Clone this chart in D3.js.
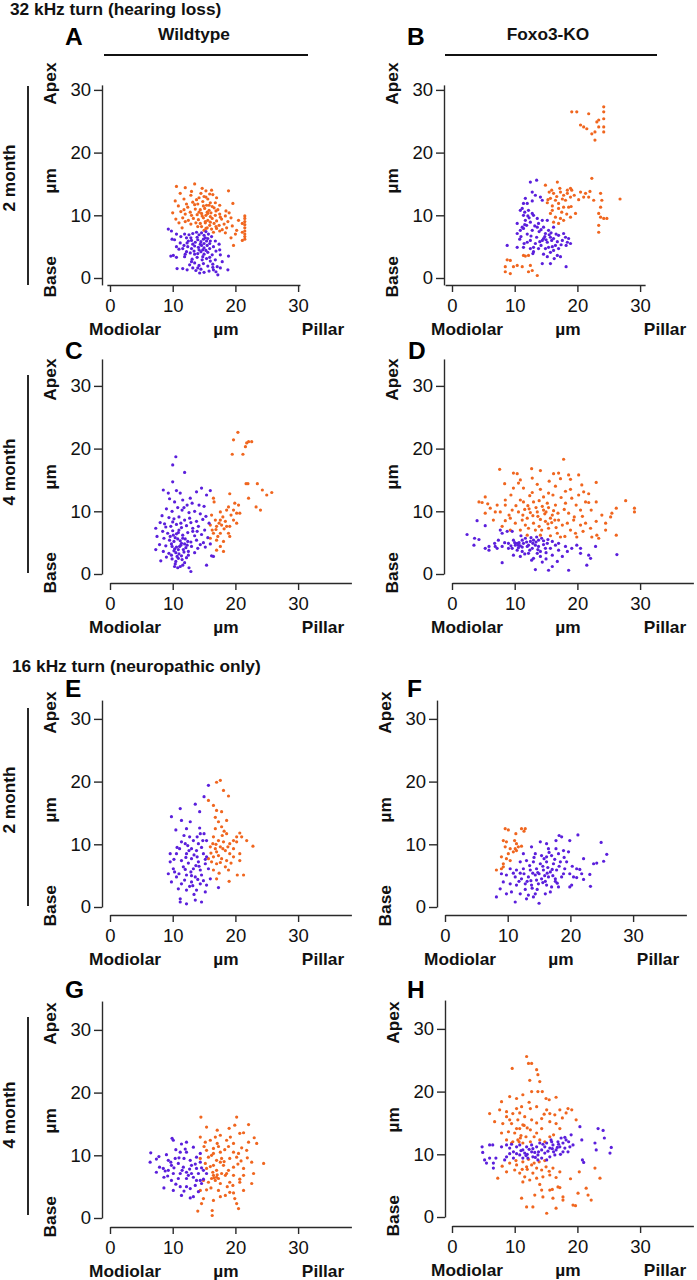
<!DOCTYPE html>
<html>
<head>
<meta charset="utf-8">
<script src="https://cdn.jsdelivr.net/npm/d3@7"></script>
<style>
  html, body { margin: 0; padding: 0; background: #fff; }
  svg { display: block; font-family: "Liberation Sans", Arial, sans-serif; }
</style>
</head>
<body>
<script>
// ---------------- DATA ----------------
const turns = ["32 kHz turn (hearing loss)", "16 kHz turn (neuropathic only)"];
const genotypes = ["Wildtype", "Foxo3-KO"];
const ages = ["2 month", "4 month", "2 month", "4 month"];
const panelLetters = ["A", "B", "C", "D", "E", "F", "G", "H"];
const xTicks = [0, 10, 20, 30];
const yTicks = [0, 10, 20, 30];
const xAxisWords = ["Modiolar", "µm", "Pillar"];
const yAxisWords = ["Apex", "µm", "Base"];
const seriesColors = { purple: "#5b1fdc", orange: "#f0661f" };

// Panel A: 32 kHz, Wildtype, 2 month
const A_orange = [[10.6,14.6],[12.0,14.4],[13.5,15.0],[14.7,14.3],[15.3,13.9],[16.2,14.0],[18.9,13.9],[11.2,13.5],[12.9,13.2],[14.2,12.8],[15.0,13.0],[15.6,12.6],[16.4,13.3],[17.0,12.8],[19.6,11.9],[10.4,12.3],[11.8,12.6],[13.2,12.1],[14.0,11.8],[14.8,12.2],[15.4,11.6],[16.0,12.0],[17.5,11.6],[10.9,11.5],[12.4,11.3],[13.6,11.0],[14.4,10.9],[15.1,11.1],[15.8,10.8],[16.6,11.2],[18.5,10.7],[10.0,10.4],[11.3,10.6],[12.0,10.2],[12.8,10.5],[13.9,10.1],[14.6,10.3],[15.3,10.0],[16.1,10.4],[16.8,10.0],[17.5,10.2],[18.4,9.9],[19.3,9.6],[10.5,9.4],[11.6,9.6],[12.5,9.2],[13.3,9.5],[14.1,9.3],[14.9,9.6],[15.6,9.2],[16.3,9.5],[17.0,9.1],[17.8,9.4],[18.8,9.0],[11.0,8.8],[12.9,8.6],[14.4,8.7],[15.2,8.8],[15.9,8.4],[16.6,8.7],[17.4,8.4],[18.2,8.6],[19.5,8.3],[14.0,8.2],[15.5,8.0],[16.2,7.8],[17.0,7.9],[17.9,7.7],[20.2,7.6],[20.0,7.0],[19.3,6.4],[19.7,5.2],[15.0,7.6],[16.5,7.3],[15.8,11.6],[15.5,10.5],[16.0,9.8],[15.2,9.0],[16.9,10.7],[14.7,9.9],[21.5,9.9],[21.5,9.5],[21.5,9.0],[21.5,8.5],[21.5,8.0],[21.5,7.5],[21.5,7.0],[21.5,6.6],[21.5,6.2],[21.1,8.7],[21.1,7.3],[21.1,6.0],[13.0,13.8],[14.5,13.5],[15.9,13.4],[13.8,12.5],[15.3,12.9],[16.8,12.0],[12.2,11.8],[13.5,11.7],[14.9,11.5],[16.3,11.4],[17.2,10.9],[11.8,10.9],[13.0,10.0],[14.2,10.5],[15.6,10.3],[17.6,9.7],[12.0,9.0],[13.7,8.8],[16.9,8.2],[18.6,8.0],[14.6,8.2],[17.5,7.5],[18.4,7.2],[11.5,8.0],[19.0,10.4],[20.5,9.2],[16.0,8.9],[15.3,7.9]];
const A_purple = [[9.3,7.8],[9.8,7.5],[9.9,6.2],[10.3,6.1],[10.6,7.0],[11.3,6.6],[11.9,7.0],[12.2,6.4],[12.6,6.9],[13.2,7.1],[13.8,7.3],[14.2,6.9],[14.6,7.2],[15.0,6.8],[15.3,7.4],[15.7,7.0],[16.2,6.6],[12.5,5.9],[13.0,6.0],[13.6,5.7],[14.0,6.1],[14.5,5.8],[14.9,6.2],[15.4,5.9],[15.9,5.5],[16.8,5.9],[17.4,5.4],[11.8,5.2],[12.4,5.0],[13.0,4.7],[13.5,5.1],[14.1,4.9],[14.6,5.2],[15.0,4.8],[15.5,5.2],[15.9,4.7],[16.5,5.0],[17.5,4.5],[11.0,4.6],[11.6,4.7],[12.2,4.2],[12.8,4.0],[13.4,4.3],[14.0,3.9],[14.5,4.2],[15.0,3.8],[15.6,4.1],[16.3,3.7],[17.6,3.7],[18.9,3.5],[10.1,3.6],[9.7,3.5],[10.6,3.3],[11.9,3.4],[13.1,3.0],[13.9,3.3],[14.7,2.9],[15.4,3.1],[16.0,2.7],[16.8,2.9],[12.7,2.1],[13.5,2.4],[14.2,2.0],[14.9,2.3],[15.6,1.9],[16.4,2.2],[17.1,1.8],[17.6,1.6],[10.7,1.5],[11.6,1.5],[12.3,1.3],[13.7,1.2],[14.5,1.4],[15.0,0.9],[15.8,1.1],[16.5,1.3],[16.9,1.0],[17.2,0.5],[18.8,1.3],[14.3,0.8],[13.2,1.6],[15.2,6.4],[15.0,5.5],[14.8,4.5],[13.9,6.5],[14.4,5.4],[15.6,6.3],[14.2,4.5],[15.3,4.4],[13.5,3.8],[14.8,3.4],[12.3,5.6],[16.0,5.9],[13.2,5.4],[16.9,4.3],[11.2,5.6],[10.6,5.0],[12.0,3.8],[15.9,3.3],[16.4,1.7],[13.0,2.6],[14.0,1.6],[12.9,6.4],[17.9,2.6]];

// Panel B: 32 kHz, Foxo3-KO, 2 month
const B_orange = [[19.1,26.5],[19.9,26.5],[21.8,26.2],[24.2,27.3],[24.2,26.5],[20.5,24.4],[21.0,24.1],[21.5,23.8],[22.3,23.0],[22.8,23.3],[23.1,24.9],[23.4,24.1],[24.2,25.4],[24.2,24.1],[24.2,23.3],[22.8,22.0],[23.4,25.2],[22.3,15.9],[14.9,14.8],[16.8,15.3],[15.5,13.7],[16.2,13.5],[17.3,13.7],[18.4,14.0],[18.9,14.3],[19.1,14.0],[17.8,13.2],[15.7,12.7],[16.5,12.4],[17.0,11.9],[18.1,12.4],[18.9,12.9],[20.5,13.7],[21.3,13.5],[21.0,12.9],[21.8,12.9],[22.6,12.4],[23.7,13.5],[23.9,12.4],[26.8,12.6],[17.0,11.1],[17.8,11.3],[18.6,11.3],[19.7,10.3],[15.7,10.3],[16.5,9.7],[17.3,9.5],[17.8,9.2],[18.9,9.7],[16.2,8.9],[17.0,8.7],[23.4,10.3],[23.7,9.7],[24.2,9.5],[24.7,9.5],[23.7,11.3],[23.4,8.4],[23.4,7.3],[18.4,13.5],[15.3,12.5],[16.0,11.5],[11.4,3.6],[11.7,3.5],[12.2,3.6],[8.8,2.9],[8.5,1.8],[9.8,1.8],[10.4,2.0],[11.2,1.8],[12.5,2.0],[12.8,1.2],[12.2,1.0],[9.3,0.7],[13.6,0.4],[8.5,1.0],[9.3,2.8],[15.2,12.0],[16.7,13.0],[17.6,12.6],[19.5,13.2],[20.2,12.5],[16.0,10.8],[17.5,10.5],[18.3,10.2],[22.0,13.8],[17.2,14.3],[15.9,14.0],[19.0,11.4]];
const B_purple = [[12.5,15.3],[13.5,15.6],[12.8,13.7],[13.3,13.2],[14.1,12.9],[14.4,12.4],[11.7,12.7],[12.0,11.9],[11.2,11.1],[10.9,10.8],[12.2,10.8],[12.8,10.3],[11.4,10.0],[11.7,9.2],[12.5,8.9],[13.6,9.5],[14.4,9.2],[15.2,9.2],[13.8,8.7],[10.4,8.7],[11.2,8.1],[10.4,7.1],[10.9,7.6],[11.4,7.9],[12.8,7.6],[13.6,8.1],[14.6,8.1],[15.4,7.6],[16.2,8.1],[14.9,7.1],[15.7,6.5],[14.6,6.3],[14.4,6.0],[15.2,5.7],[16.2,6.3],[17.0,6.8],[17.8,7.1],[18.1,6.5],[18.6,6.3],[18.9,5.5],[18.4,5.7],[12.5,6.0],[13.3,5.5],[11.4,4.9],[12.5,4.7],[13.0,4.9],[10.4,4.9],[8.8,5.2],[13.8,4.7],[14.9,4.7],[15.4,4.9],[15.7,4.1],[16.2,4.4],[17.0,4.7],[16.8,3.6],[17.3,3.4],[14.4,2.3],[15.7,2.3],[18.2,1.8],[12.0,5.7],[16.5,5.2],[15.2,3.4],[11.4,11.9],[14.8,6.6],[15.0,6.1],[15.5,6.9],[13.9,7.4],[12.0,7.0],[11.0,6.6],[13.0,10.0],[12.3,9.6],[11.6,8.5],[16.8,5.8],[17.6,6.0],[14.2,5.2],[12.8,12.3],[11.6,10.5],[12.1,9.9],[13.2,8.3],[14.2,7.7],[15.8,7.2],[16.6,7.0],[17.4,5.3],[16.0,5.0],[14.0,5.8],[13.5,6.5],[12.6,6.7],[11.5,5.5],[10.8,6.2],[12.9,3.9],[14.6,3.8],[15.9,6.0],[18.2,5.2],[16.3,3.1],[13.0,4.2],[11.9,8.4]];

// Panel C: 32 kHz, Wildtype, 4 month
const C_orange = [[20.4,22.6],[19.7,21.4],[19.5,19.1],[21.8,20.9],[21.6,20.3],[22.1,21.1],[21.2,19.1],[22.6,21.1],[21.7,14.4],[22.0,14.4],[23.5,14.4],[24.3,13.4],[25.0,12.6],[25.8,13.0],[19.1,12.8],[22.1,12.1],[23.3,10.7],[24.0,10.2],[16.5,12.1],[16.6,11.5],[19.9,11.3],[20.5,11.0],[19.7,10.2],[20.2,9.7],[20.7,9.7],[18.6,10.2],[17.6,9.9],[16.8,8.6],[17.6,8.6],[18.4,8.4],[19.7,8.6],[16.0,7.8],[17.0,7.6],[17.8,7.8],[18.6,7.6],[16.5,6.5],[17.6,6.5],[19.1,6.0],[16.0,5.7],[17.0,5.4],[18.1,5.2],[17.6,4.4],[17.0,3.8],[18.1,3.6],[19.1,7.6],[20.2,8.1],[18.9,6.5],[18.2,7.2],[16.3,7.0],[16.9,7.1],[17.4,8.1],[18.0,9.1],[19.3,9.4],[18.9,10.7],[16.2,9.4],[17.2,6.0]];
const C_purple = [[10.5,18.7],[10.0,17.4],[11.9,16.2],[10.0,14.7],[8.5,13.4],[9.3,12.9],[10.6,13.3],[11.2,12.9],[12.8,12.1],[13.8,13.1],[14.6,13.7],[16.0,13.3],[15.4,12.6],[9.5,12.0],[10.3,11.5],[11.6,11.8],[12.3,11.0],[13.1,11.3],[14.2,11.0],[15.0,10.8],[9.0,10.4],[9.9,10.0],[10.8,10.6],[11.5,10.2],[12.6,9.8],[13.5,10.0],[14.4,9.6],[15.3,9.2],[8.3,9.3],[9.4,9.0],[10.2,8.8],[11.0,9.1],[11.9,8.6],[12.7,8.9],[13.8,8.4],[14.8,8.7],[15.8,8.1],[8.0,8.2],[8.7,8.0],[9.7,7.6],[10.6,7.9],[11.4,7.4],[12.2,7.7],[13.2,7.3],[14.1,7.6],[15.1,7.0],[7.3,7.3],[8.4,6.8],[9.2,6.5],[10.0,6.9],[10.9,6.6],[11.6,6.2],[12.4,6.6],[13.5,6.1],[14.6,6.3],[15.6,5.8],[7.5,6.0],[8.6,5.7],[9.5,5.4],[10.4,5.8],[11.2,5.3],[12.0,5.6],[12.9,5.1],[13.8,5.4],[14.9,5.0],[16.0,4.8],[7.9,4.7],[8.9,4.5],[9.8,4.8],[10.6,4.3],[11.3,4.6],[12.1,4.2],[13.0,4.4],[14.0,4.1],[15.2,4.3],[7.3,3.9],[8.5,3.6],[9.4,3.3],[10.2,3.7],[11.0,3.2],[11.8,3.5],[12.5,3.0],[13.5,3.4],[9.0,2.7],[9.9,2.4],[10.7,2.8],[11.5,2.3],[12.2,2.6],[8.1,2.1],[10.4,1.6],[11.2,1.2],[10.8,1.0],[11.6,1.4],[12.9,0.4],[12.6,1.0],[15.4,1.4],[16.2,2.9],[16.5,2.8],[10.3,4.0],[11.4,4.9],[10.8,5.6],[11.7,3.9],[10.1,6.2],[11.0,7.0],[9.8,3.0],[10.5,2.0],[11.1,4.4],[10.5,3.4],[11.9,4.8],[10.9,2.5],[10.2,5.2],[11.6,5.7],[10.9,3.9],[11.4,2.9],[12.3,4.6],[9.9,4.4],[10.6,6.4],[12.4,5.2],[13.2,6.8],[9.6,6.0],[10.0,8.3],[11.3,8.1],[12.5,3.6],[10.3,1.2],[11.9,1.8],[13.9,6.8],[14.4,4.7],[8.9,7.5],[12.9,8.2],[11.8,10.6]];

// Panel D: 32 kHz, Foxo3-KO, 4 month
const D_orange = [[17.8,18.3],[7.6,16.7],[9.8,16.1],[10.4,16.0],[12.7,16.8],[14.1,16.5],[16.2,16.0],[17.0,16.1],[18.6,15.8],[18.9,15.1],[20.2,15.8],[23.0,14.6],[8.4,14.4],[9.8,13.7],[10.6,14.5],[10.9,15.0],[11.4,13.7],[12.8,15.3],[14.1,13.5],[15.4,12.9],[16.5,14.0],[18.9,13.5],[20.7,14.2],[21.0,13.1],[20.2,12.6],[5.3,12.3],[4.3,11.5],[4.8,11.4],[5.7,11.2],[8.5,11.8],[8.5,11.0],[10.9,11.8],[11.4,11.5],[12.1,10.9],[13.0,11.5],[13.9,11.7],[15.2,11.3],[15.4,10.6],[16.5,11.0],[18.1,11.3],[19.1,12.1],[21.3,11.5],[21.8,11.4],[23.0,11.5],[27.7,11.7],[26.2,10.5],[29.1,10.5],[29.1,9.9],[5.3,9.7],[6.9,9.9],[7.7,9.9],[9.6,10.2],[10.6,9.9],[12.5,9.8],[13.6,9.9],[14.6,10.2],[16.0,9.4],[17.0,8.6],[18.6,9.7],[20.5,10.2],[23.9,9.4],[25.5,9.7],[25.3,9.1],[6.6,8.6],[8.5,8.5],[9.3,8.9],[10.1,8.1],[11.2,8.6],[12.0,8.9],[13.0,8.1],[14.1,8.7],[14.9,8.4],[15.7,8.9],[16.4,8.6],[17.6,7.8],[18.4,8.1],[19.4,8.6],[20.5,7.8],[21.3,8.1],[23.0,8.4],[24.5,8.1],[24.5,7.0],[8.0,7.6],[9.3,7.0],[10.9,7.0],[12.2,7.3],[13.3,7.0],[14.3,7.0],[15.4,7.3],[16.8,6.5],[17.3,5.9],[18.9,7.0],[19.7,6.5],[19.9,5.9],[22.3,5.9],[23.1,6.2],[23.4,5.7],[26.2,6.2],[12.0,6.2],[14.1,6.2],[15.7,6.1],[12.9,9.3],[14.8,9.6],[15.3,8.0],[11.6,10.3],[13.4,10.6],[16.2,10.1],[17.4,12.2],[19.5,9.1],[22.1,7.3],[11.3,9.4],[12.3,10.4],[13.7,9.2],[14.4,10.8],[15.0,9.9],[15.9,8.2],[16.9,9.7],[17.9,10.3],[11.7,7.8],[13.9,7.6],[10.2,10.9],[9.4,12.6],[12.4,12.5],[14.6,12.3],[16.1,12.6],[18.1,13.2],[19.8,11.0],[20.8,9.2],[22.2,10.2],[21.8,12.8],[7.2,11.0],[6.1,10.5],[9.1,9.4],[15.5,14.8],[13.6,14.3],[16.6,7.4],[18.0,6.0],[20.9,6.8],[12.8,13.0],[17.3,15.2]];
const D_purple = [[4.0,8.5],[5.3,7.7],[2.4,6.3],[3.6,5.7],[4.3,5.5],[3.5,4.6],[5.3,4.1],[5.9,4.4],[6.8,4.9],[7.7,7.0],[8.0,6.5],[8.8,6.8],[9.6,6.8],[7.2,4.1],[8.0,4.4],[9.0,4.1],[9.8,5.4],[10.4,4.9],[10.6,4.6],[11.2,5.4],[11.7,5.7],[12.5,5.2],[13.3,4.6],[13.8,5.4],[14.3,5.7],[15.2,4.9],[16.0,5.2],[15.7,4.1],[9.6,4.1],[10.4,3.8],[11.2,3.6],[12.0,4.4],[12.8,4.1],[13.6,3.3],[14.1,2.8],[13.0,2.5],[14.4,1.9],[16.0,3.0],[17.0,3.8],[18.1,4.4],[19.1,4.1],[19.9,4.6],[20.5,4.1],[21.8,3.0],[22.1,2.5],[21.5,1.4],[22.9,4.4],[26.3,3.1],[8.0,1.8],[13.3,0.7],[15.4,0.6],[16.0,1.2],[18.6,0.6],[9.8,3.0],[10.9,2.8],[9.0,4.9],[10.1,4.6],[10.9,4.5],[11.4,4.9],[12.2,4.6],[13.0,5.4],[14.9,4.1],[16.5,4.6],[13.8,4.4],[12.2,3.3],[18.4,3.6],[17.0,4.9],[6.9,4.4],[5.9,3.8],[7.4,5.4],[10.7,5.0],[14.6,4.7],[12.6,5.8],[11.0,6.1],[13.5,5.9],[15.0,3.4],[17.6,2.8],[10.6,4.2],[11.9,5.1],[12.9,4.9],[13.4,5.1],[14.6,5.3],[11.2,4.3],[10.0,5.0],[12.4,3.8],[13.7,3.9],[15.3,5.5],[14.1,3.6],[9.4,4.5],[8.4,5.0],[16.8,2.0],[12.7,2.2],[15.0,2.4],[20.5,3.3],[11.6,3.2]];

// Panel E: 16 kHz, Wildtype, 2 month
const E_orange = [[17.0,19.9],[17.6,20.2],[18.1,18.6],[18.9,17.7],[15.7,17.0],[16.5,16.2],[17.0,15.4],[17.8,15.2],[17.3,13.6],[18.6,13.8],[16.8,12.5],[17.8,12.8],[18.6,11.7],[20.7,11.8],[20.2,11.2],[19.7,10.6],[21.0,11.2],[21.8,10.6],[22.8,9.7],[16.5,11.2],[17.3,10.6],[18.1,10.4],[19.1,10.1],[20.2,10.4],[16.0,9.6],[16.8,9.3],[17.6,9.6],[18.4,9.0],[19.1,8.5],[19.7,8.0],[20.7,8.5],[16.5,8.0],[17.3,8.2],[17.8,7.7],[18.6,7.4],[16.2,7.2],[17.0,6.9],[18.4,6.4],[18.9,5.9],[16.5,5.9],[17.0,4.5],[19.0,4.1],[20.3,5.1],[21.3,5.1],[20.7,7.4],[15.7,7.7],[19.7,9.3],[17.0,8.8],[18.0,9.3],[16.4,10.1],[16.9,10.0],[17.9,11.4],[18.8,9.6],[19.3,7.0],[17.6,7.1],[16.1,8.6],[18.2,12.1],[16.8,14.3],[17.4,5.4]];
const E_purple = [[15.7,19.4],[15.0,17.6],[13.6,16.4],[14.3,15.2],[11.2,15.7],[9.8,14.4],[11.4,13.8],[12.8,13.6],[10.5,12.3],[12.2,12.5],[14.4,11.7],[15.0,11.7],[13.3,10.6],[11.4,10.4],[12.0,10.1],[14.1,10.1],[15.4,10.6],[13.0,9.3],[13.8,9.0],[10.6,8.5],[12.2,8.5],[14.9,8.5],[15.4,8.0],[9.6,7.2],[11.4,7.4],[13.0,7.7],[14.1,7.2],[15.2,6.9],[10.1,6.1],[11.7,6.4],[13.3,6.1],[14.4,5.9],[15.7,6.1],[9.3,5.3],[10.6,4.8],[12.2,5.1],[13.6,4.8],[14.6,5.1],[16.0,4.5],[9.8,4.0],[11.4,3.7],[13.0,4.0],[14.4,3.7],[15.4,3.5],[17.3,3.1],[10.9,2.9],[12.2,2.7],[13.8,2.7],[15.2,2.4],[11.2,1.3],[12.2,0.5],[13.6,1.1],[14.6,0.8],[11.2,0.8],[9.6,8.5],[12.6,9.0],[13.9,8.0],[14.6,9.5],[12.5,7.0],[13.7,6.6],[12.9,5.6],[14.0,4.4],[11.9,4.3],[13.2,3.4],[10.3,5.6],[11.1,9.3],[12.7,11.2],[13.9,11.2],[12.4,9.8],[13.4,8.3],[14.2,6.5],[12.0,6.0],[11.0,5.3],[13.0,5.0],[14.9,4.2],[12.7,3.3],[10.2,7.6],[14.8,10.6],[11.8,11.4],[15.2,7.6],[13.4,2.0],[12.1,7.9],[10.7,9.5],[14.3,12.6]];

// Panel F: 16 kHz, Foxo3-KO, 2 month
const F_orange = [[9.6,12.5],[10.1,12.3],[12.2,12.5],[12.6,12.1],[12.8,12.5],[11.3,11.7],[9.3,10.6],[9.8,10.4],[11.1,10.6],[11.4,10.1],[9.6,9.6],[10.4,9.3],[11.2,9.3],[11.7,9.6],[12.2,9.7],[10.1,8.5],[10.9,8.8],[11.4,9.0],[9.0,8.0],[9.8,7.7],[9.3,6.9],[9.0,6.1],[8.2,5.9],[9.3,6.4],[10.4,7.4]];
const F_purple = [[18.2,11.4],[18.6,11.2],[21.2,11.5],[24.9,10.3],[17.7,10.6],[16.2,10.1],[15.2,10.4],[19.9,10.6],[13.8,9.6],[16.5,9.3],[17.7,9.3],[18.9,9.0],[12.5,8.5],[14.4,8.5],[15.4,8.2],[16.2,8.0],[17.0,8.2],[18.1,8.5],[19.7,8.8],[22.1,7.7],[25.8,8.4],[24.2,7.0],[25.3,7.3],[23.7,6.9],[12.0,7.2],[13.0,7.4],[14.1,7.2],[15.2,6.9],[16.2,7.2],[17.3,6.9],[18.4,7.2],[19.4,7.2],[21.0,6.1],[21.5,6.0],[10.4,6.1],[11.4,5.9],[12.5,6.1],[13.6,5.9],[14.6,6.1],[15.7,5.9],[16.8,5.6],[17.8,5.9],[18.9,5.3],[19.9,5.3],[23.1,5.2],[9.0,5.3],[9.8,5.1],[11.2,4.8],[12.2,4.5],[13.3,4.8],[14.4,5.1],[15.4,4.5],[16.5,4.8],[17.6,4.5],[18.6,4.8],[20.5,4.8],[21.0,4.7],[22.1,4.4],[9.3,4.0],[10.4,3.7],[11.4,3.5],[12.8,3.7],[13.8,3.5],[14.9,3.7],[16.2,3.5],[17.0,3.2],[18.1,3.2],[19.9,3.2],[20.2,3.5],[23.2,3.3],[8.8,2.9],[10.6,2.4],[12.0,2.1],[13.3,1.9],[14.4,2.1],[16.0,2.1],[16.8,2.4],[8.2,1.6],[11.2,0.8],[15.0,0.6],[13.0,1.3],[14.1,1.6],[9.8,2.1],[15.6,6.5],[16.4,6.3],[17.1,6.0],[14.8,5.5],[15.9,5.0],[13.7,4.2],[12.0,5.4],[17.5,7.6],[16.0,4.1],[13.5,6.6],[14.0,5.4],[15.0,5.3],[16.3,5.4],[17.2,5.0],[18.2,6.5],[14.2,7.9],[15.8,7.7],[12.6,5.3],[11.8,4.1],[13.1,4.1],[14.6,4.3],[15.6,3.9],[17.9,3.8],[19.1,6.1],[20.3,6.5],[12.8,2.8],[14.7,2.8],[10.9,5.4],[16.6,8.7],[19.0,7.9],[21.8,5.3],[17.6,4.1],[13.9,3.0]];

// Panel G: 16 kHz, Wildtype, 4 month
const G_orange = [[14.5,16.1],[20.2,16.1],[22.1,14.9],[15.4,14.5],[17.1,14.0],[19.0,14.3],[19.9,14.8],[20.7,13.5],[21.3,13.6],[17.6,13.2],[23.0,12.8],[14.4,12.9],[15.2,12.1],[16.0,12.4],[16.8,12.9],[18.6,12.4],[19.7,11.9],[22.1,12.1],[23.4,11.9],[15.4,10.8],[16.5,11.1],[17.6,10.5],[19.7,10.5],[20.5,10.3],[21.8,10.8],[14.4,9.5],[15.7,9.7],[17.0,9.2],[17.8,9.5],[19.1,9.5],[20.2,9.7],[22.6,8.9],[24.5,8.7],[15.2,8.7],[16.5,8.4],[18.1,8.4],[19.7,8.1],[21.3,7.9],[15.4,7.9],[17.0,7.6],[16.5,6.8],[17.0,6.5],[16.2,6.3],[16.8,6.0],[17.3,6.3],[18.4,6.8],[19.7,6.8],[21.3,6.8],[22.9,7.1],[14.9,6.0],[15.7,5.7],[17.6,5.5],[19.1,5.7],[20.7,5.7],[22.6,5.5],[14.4,4.4],[15.4,4.5],[17.3,4.4],[19.1,4.1],[19.7,4.0],[21.3,4.4],[14.6,2.3],[14.9,3.1],[16.5,2.8],[17.6,3.4],[19.9,3.1],[20.5,1.5],[20.2,2.3],[14.0,1.1],[16.3,1.2],[16.3,0.4],[18.6,7.1],[16.5,10.3],[18.9,11.4],[17.3,11.4],[16.6,6.4],[17.1,6.9],[18.2,9.0],[20.9,9.1],[16.0,8.2],[17.6,8.9],[18.9,7.6],[20.4,8.6],[16.2,10.0],[18.3,10.9],[19.2,12.9],[21.0,11.2],[17.8,7.1],[19.6,5.2],[16.1,4.8],[18.4,3.6],[21.9,9.6],[15.0,11.4],[17.1,11.9],[20.7,6.2],[16.4,7.3],[18.7,5.0]];
const G_purple = [[6.5,10.4],[7.4,9.4],[6.4,8.9],[7.9,8.1],[8.8,7.5],[8.6,6.5],[8.6,4.8],[9.9,12.7],[10.1,12.4],[11.4,11.8],[12.2,12.1],[13.3,11.3],[12.2,10.5],[11.2,10.5],[10.4,9.5],[9.3,9.2],[9.8,8.4],[10.9,8.7],[11.7,8.1],[12.8,9.2],[13.8,9.7],[14.4,10.3],[14.4,8.9],[8.5,7.9],[9.3,7.6],[10.1,7.1],[11.2,7.1],[12.2,7.3],[13.0,7.1],[14.1,7.1],[14.9,7.6],[9.8,6.0],[10.9,6.3],[12.2,6.3],[13.3,6.5],[14.4,6.0],[10.1,4.4],[11.4,3.6],[12.8,4.7],[13.3,3.4],[12.8,3.2],[13.6,5.2],[12.2,5.0],[14.6,5.5],[14.9,6.2],[15.4,7.1],[7.4,7.3],[11.2,5.0],[13.8,7.9],[9.0,10.1],[10.5,10.9],[11.8,9.5],[13.0,8.4],[12.0,11.0],[10.2,8.0],[11.5,7.6],[12.7,7.8],[13.6,8.6],[9.7,8.9],[11.0,9.6],[12.5,6.8],[13.8,6.0],[10.5,5.4],[14.1,4.2],[9.2,6.7],[11.8,4.3],[7.8,9.8],[14.6,8.0]];

// Panel H: 16 kHz, Foxo3-KO, 4 month
const H_orange = [[11.9,25.6],[12.2,24.5],[12.7,24.5],[9.6,23.7],[13.5,23.5],[13.7,22.7],[12.4,21.8],[14.0,21.6],[12.7,20.0],[13.7,20.0],[14.4,20.0],[10.3,18.9],[9.2,19.2],[7.9,18.4],[11.3,19.5],[15.0,18.9],[15.5,18.7],[16.6,19.1],[18.5,17.3],[19.1,17.1],[18.2,16.6],[6.0,16.5],[7.6,17.1],[8.7,16.8],[9.7,16.5],[8.7,16.0],[10.3,17.3],[11.1,17.6],[12.5,17.3],[13.5,17.6],[15.1,17.1],[15.6,16.5],[16.4,16.3],[17.2,17.1],[19.8,15.5],[6.8,15.2],[8.1,14.9],[9.5,14.9],[10.5,15.5],[11.6,16.0],[12.7,15.5],[14.3,15.7],[15.6,15.2],[16.6,14.9],[17.2,14.1],[7.9,13.4],[9.0,13.6],[10.0,13.4],[10.8,14.1],[11.3,14.7],[12.5,13.9],[13.5,13.4],[14.3,14.1],[15.6,12.8],[16.2,13.1],[8.7,12.3],[9.7,12.0],[10.5,12.3],[11.3,11.8],[12.5,12.0],[14.0,12.3],[14.8,12.0],[9.2,8.6],[10.3,8.3],[10.0,7.5],[8.7,7.2],[7.3,6.2],[11.3,8.8],[11.9,8.0],[12.7,8.3],[13.5,7.8],[14.3,7.5],[15.0,8.0],[16.1,7.8],[17.2,7.2],[10.8,7.0],[11.6,6.4],[12.9,7.0],[14.5,6.4],[15.6,6.7],[11.3,5.6],[12.4,5.9],[13.5,6.2],[22.8,7.8],[23.6,6.2],[20.3,7.2],[15.6,4.3],[16.0,4.4],[16.9,4.8],[17.2,4.7],[11.1,3.0],[13.2,3.5],[14.5,3.2],[16.1,3.0],[17.7,2.7],[19.3,1.9],[19.7,1.8],[21.4,4.6],[21.7,3.5],[22.2,2.7],[20.1,3.8],[11.9,1.6],[12.9,1.6],[15.1,0.6],[16.6,1.4],[17.7,3.2],[14.3,4.3],[11.0,13.0],[11.8,12.8],[10.2,9.0],[12.2,9.2],[13.9,8.8],[11.5,14.6],[10.9,12.6],[10.3,14.1],[12.0,14.2],[13.1,12.8],[9.5,11.8],[10.7,12.0],[12.0,7.6],[13.1,8.6],[15.5,7.3],[14.8,9.0],[11.2,7.6],[16.6,6.3],[13.5,15.0],[9.2,15.5],[14.7,16.4],[17.6,15.8],[12.3,18.3],[10.8,16.6],[8.0,8.1],[18.9,6.1],[14.0,5.2]];
const H_purple = [[4.9,10.3],[6.0,11.5],[6.5,11.5],[4.8,11.2],[5.2,9.1],[6.0,9.4],[5.5,8.6],[6.6,8.6],[6.6,7.8],[7.9,11.2],[8.7,11.5],[9.2,11.0],[8.7,9.6],[9.2,10.1],[8.4,9.1],[9.8,9.4],[10.3,11.2],[10.8,11.5],[11.3,10.7],[11.6,10.2],[11.9,11.2],[12.7,10.4],[13.5,11.2],[13.7,9.9],[14.3,10.7],[14.8,10.2],[15.1,11.8],[15.6,11.0],[16.1,11.5],[16.6,10.7],[16.9,12.0],[17.2,11.2],[17.7,11.8],[18.2,12.3],[18.8,11.2],[19.0,13.1],[20.4,14.4],[20.7,12.3],[20.8,9.1],[21.0,8.7],[22.8,11.8],[23.0,10.7],[23.3,14.1],[24.1,13.8],[24.3,12.6],[25.2,10.2],[25.4,11.1],[12.9,9.6],[12.1,9.4],[11.3,9.4],[14.3,9.4],[15.6,9.6],[16.4,9.9],[17.7,10.4],[18.5,10.4],[10.8,9.9],[9.8,10.4],[12.7,11.5],[15.8,12.3],[17.4,12.6],[19.3,11.5],[15.1,9.1],[13.7,9.1],[10.3,10.1],[14.8,11.2],[7.0,9.4],[13.2,10.3],[16.2,10.4],[17.0,11.6],[18.0,12.7],[12.3,10.8],[11.0,10.6],[12.0,10.0],[12.9,10.9],[13.8,10.4],[14.5,11.6],[15.3,10.5],[16.0,10.9],[16.8,11.1],[17.3,10.0],[18.0,11.0],[18.6,12.0],[14.0,11.8],[11.8,9.8],[15.9,12.0],[13.3,9.5],[9.5,11.6]];

const panelData = {
  A: { orange: A_orange, purple: A_purple },
  B: { orange: B_orange, purple: B_purple },
  C: { orange: C_orange, purple: C_purple },
  D: { orange: D_orange, purple: D_purple },
  E: { orange: E_orange, purple: E_purple },
  F: { orange: F_orange, purple: F_purple },
  G: { orange: G_orange, purple: G_purple },
  H: { orange: H_orange, purple: H_purple }
};

// ---------------- LAYOUT ----------------
const W = 697, H = 1280;
const K = 6.27; // pixels per µm
const FONT = '"Liberation Sans", Arial, sans-serif';
const layout = {
  A: { x0: 110, y0: 278, yAxisX: 102, xAxisY: 285, xDom: [-0.5, 30.3], yDom: [-1.1, 30.8], lx: 65, ly: 45 },
  B: { x0: 452, y0: 278, yAxisX: 444, xAxisY: 285, xDom: [-1.1, 30.8], yDom: [-1.1, 30.8], lx: 407, ly: 45 },
  C: { x0: 110, y0: 574, yAxisX: 102, xAxisY: 583, xDom: [0, 38.5], yDom: [0, 34.3], lx: 65, ly: 359 },
  D: { x0: 452, y0: 574, yAxisX: 444, xAxisY: 583, xDom: [0, 38.5], yDom: [0, 34.3], lx: 408, ly: 359 },
  E: { x0: 110, y0: 907, yAxisX: 102, xAxisY: 915, xDom: [0, 38.5], yDom: [0, 33.0], lx: 65, ly: 697 },
  F: { x0: 445, y0: 907, yAxisX: 437, xAxisY: 915, xDom: [0, 38.5], yDom: [0, 33.0], lx: 407, ly: 697 },
  G: { x0: 110, y0: 1218, yAxisX: 102, xAxisY: 1227, xDom: [0, 38.5], yDom: [0, 34.6], lx: 65, ly: 998 },
  H: { x0: 452, y0: 1217, yAxisX: 445, xAxisY: 1226, xDom: [0, 38.5], yDom: [0, 34.6], lx: 407, ly: 998 }
};

const svg = d3.select("body").append("svg")
  .attr("width", W).attr("height", H)
  .attr("viewBox", `0 0 ${W} ${H}`);

svg.append("rect").attr("width", W).attr("height", H).attr("fill", "#fff");

// Section titles
svg.append("text").attr("x", 10).attr("y", 14.5)
  .attr("font-size", 17.3).attr("font-weight", "bold").attr("fill", "#111").text(turns[0]);
svg.append("text").attr("x", 12).attr("y", 672)
  .attr("font-size", 17.3).attr("font-weight", "bold").attr("fill", "#111").text(turns[1]);

// Genotype headers
[[genotypes[0], 194, 104, 308], [genotypes[1], 548, 445, 657]].forEach(([t, cx, a, b]) => {
  svg.append("text").attr("x", cx).attr("y", 40).attr("text-anchor", "middle")
    .attr("font-size", 17.3).attr("font-weight", "bold").attr("fill", "#111").text(t);
  svg.append("line").attr("x1", a).attr("x2", b).attr("y1", 55).attr("y2", 55)
    .attr("stroke", "#111").attr("stroke-width", 1.8);
});

// Row (age) labels with vertical lines
[[ages[0], 178, 86, 285], [ages[1], 472, 375, 573], [ages[2], 800, 708, 906], [ages[3], 1115, 1017, 1215]]
  .forEach(([t, cy, a, b]) => {
    svg.append("text").attr("transform", `translate(15,${cy}) rotate(-90)`)
      .attr("text-anchor", "middle").attr("font-size", 17.3).attr("font-weight", "bold")
      .attr("fill", "#111").text(t);
    svg.append("line").attr("x1", 28).attr("x2", 28).attr("y1", a).attr("y2", b)
      .attr("stroke", "#111").attr("stroke-width", 1.8);
  });

panelLetters.forEach(id => {
  const L = layout[id];
  const g = svg.append("g").attr("font-family", FONT);
  const x = d3.scaleLinear().domain(L.xDom).range(L.xDom.map(d => L.x0 + K * d));
  const y = d3.scaleLinear().domain(L.yDom).range(L.yDom.map(d => L.y0 - K * d));

  // axes
  const gx = g.append("g").attr("transform", `translate(0,${L.xAxisY})`)
    .call(d3.axisBottom(x).tickValues(xTicks).tickSize(7).tickSizeOuter(0).tickPadding(7).tickFormat(d3.format("d")));
  const gy = g.append("g").attr("transform", `translate(${L.yAxisX},0)`)
    .call(d3.axisLeft(y).tickValues(yTicks).tickSize(8).tickSizeOuter(0).tickPadding(3).tickFormat(d3.format("d")));
  [gx, gy].forEach(a => {
    a.attr("font-family", null).attr("font-size", null);
    a.selectAll("path.domain").attr("stroke", "#2a2a2a").attr("stroke-width", 1.4);
    a.selectAll(".tick line").attr("stroke", "#2a2a2a").attr("stroke-width", 1.4);
    a.selectAll(".tick text").attr("font-size", 18.5).attr("fill", "#111").attr("font-family", FONT);
  });

  // points: orange under, purple over
  ["orange", "purple"].forEach(s => {
    g.append("g").selectAll("circle").data(panelData[id][s]).join("circle")
      .attr("cx", d => x(d[0])).attr("cy", d => y(d[1])).attr("r", 1.6)
      .attr("fill", seriesColors[s]);
  });

  // panel letter
  g.append("text").attr("x", L.lx).attr("y", L.ly).attr("font-size", 24.5)
    .attr("font-weight", "bold").attr("fill", "#000").text(id);

  // y-axis words (rotated)
  const yw = [[yAxisWords[0], 31], [yAxisWords[1], 15.5], [yAxisWords[2], 0.2]];
  yw.forEach(([t, v]) => {
    g.append("text").attr("transform", `translate(${L.yAxisX - 46},${L.y0 - K * v}) rotate(-90)`)
      .attr("text-anchor", "middle").attr("font-size", 17.3).attr("font-weight", "bold")
      .attr("fill", "#111").text(t);
  });

  // x-axis words
  const xw = [[xAxisWords[0], 15], [xAxisWords[1], 116], [xAxisWords[2], 213]];
  xw.forEach(([t, dx]) => {
    g.append("text").attr("x", L.x0 + dx).attr("y", L.xAxisY + 50)
      .attr("text-anchor", "middle").attr("font-size", 17.3).attr("font-weight", "bold")
      .attr("fill", "#111").text(t);
  });
});
</script>
</body>
</html>
